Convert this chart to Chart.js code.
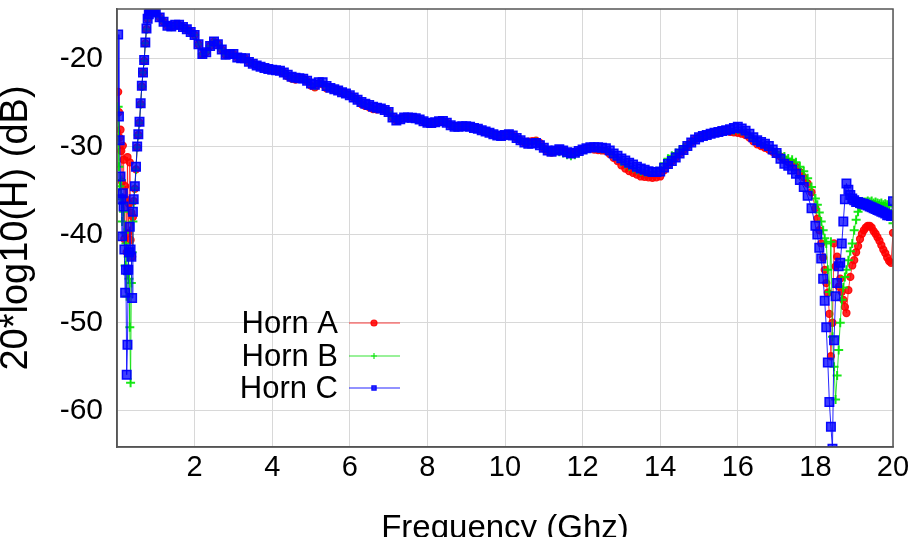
<!DOCTYPE html>
<html lang="en">
<head>
<meta charset="UTF-8">
<title>Horn response</title>
<script src="https://cdn.jsdelivr.net/npm/chart.js@4"></script>
<style>
  html, body { margin: 0; padding: 0; background: #fff; }
  canvas { display: block; }
</style>
</head>
<body>
<canvas id="hornChart" width="913" height="537"></canvas>
<script>
// frequency samples (GHz)
const freqLow = [0.03,0.05,0.07,0.09,0.11,0.13,0.15,0.17,0.19,0.21,0.23,0.25,0.27,0.29,0.31,0.33,0.35,0.37,0.39,0.41,0.43,
  0.46,0.49,0.52,0.55,0.58,0.61,0.64,0.67,0.70,0.73,0.76,0.79,0.82,0.85,0.88,0.91,0.94,0.97];
const freqMid = [1.0,1.1,1.2,1.3,1.4,1.5,1.6,1.7,1.8,1.9, 2.0,2.1,2.2,2.3,2.4,2.5,2.6,2.7,2.8,2.9,
  3.0,3.1,3.2,3.3,3.4,3.5,3.6,3.7,3.8,3.9, 4.0,4.1,4.2,4.3,4.4,4.5,4.6,4.7,4.8,4.9,
  5.0,5.1,5.2,5.3,5.4,5.5,5.6,5.7,5.8,5.9, 6.0,6.1,6.2,6.3,6.4,6.5,6.6,6.7,6.8,6.9,
  7.0,7.1,7.2,7.3,7.4,7.5,7.6,7.7,7.8,7.9, 8.0,8.1,8.2,8.3,8.4,8.5,8.6,8.7,8.8,8.9,
  9.0,9.1,9.2,9.3,9.4,9.5,9.6,9.7,9.8,9.9, 10.0,10.1,10.2,10.3,10.4,10.5,10.6,10.7,10.8,10.9,
  11.0,11.1,11.2,11.3,11.4,11.5,11.6,11.7,11.8,11.9, 12.0,12.1,12.2,12.3,12.4,12.5,12.6,12.7,12.8,12.9,
  13.0,13.1,13.2,13.3,13.4,13.5,13.6,13.7,13.8,13.9, 14.0,14.1,14.2,14.3,14.4,14.5,14.6,14.7,14.8,14.9,
  15.0,15.1,15.2,15.3,15.4,15.5,15.6,15.7,15.8,15.9, 16.0,16.1,16.2,16.3,16.4,16.5,16.6,16.7,16.8,16.9,
  17.0,17.1,17.2,17.3,17.4,17.5];
const freqTail = [17.6,17.7,17.8,17.9,18.0,18.05,18.1,18.15,18.2,
  18.24,18.28,18.32,18.36,18.4,18.44,18.48,18.52,18.56,18.6,18.64,18.68,18.72,18.76,18.8,
  18.85,18.9,18.95,19.0,19.05,19.1,19.15,19.2,19.25,19.3,19.35,19.4,19.45,19.5,19.55,19.6,
  19.65,19.7,19.75,19.8,19.85,19.9,19.95,20.0];

// Horn A (dB)
const hornALow = [-23.8,-26.1,-29.0,-28.1,-30.5,-34.0,-29.9,-31.5,-40.5,-34.5,-36.0,-42.0,-31.2,-39.8,-36.5,-31.8,-40.6,-37.5,-42.5,-38.0,-36.2,
  -34.8,-32.6,-30.1,-28.7,-27.3,-25.2,-23.2,-21.6,-20.3,-18.3,-16.7,-15.5,-15.0,-14.6,-14.45,-14.4,-14.45,-14.6];
const hornAMid = [-14.8,-15.35,-15.85,-16.3,-16.4,-16.2,-16.2,-16.45,-16.7,-17.0,
  -17.35,-18.4,-19.6,-19.3,-18.6,-18.1,-18.4,-19.0,-19.6,-19.5,
  -19.5,-19.9,-20.0,-20.0,-20.4,-20.6,-20.8,-20.95,-21.1,-21.2,
  -21.3,-21.35,-21.4,-21.6,-22.05,-22.3,-22.4,-22.25,-22.3,-22.55,
  -23.1,-23.3,-22.85,-22.95,-23.4,-23.35,-23.5,-23.65,-23.85,-24.0,
  -24.2,-24.45,-24.7,-25.2,-25.4,-25.55,-25.75,-25.8,-25.7,-25.85,
  -26.1,-26.7,-27.05,-26.9,-26.7,-26.7,-26.75,-26.8,-26.95,-27.15,
  -27.3,-27.35,-27.25,-27.15,-27.1,-27.3,-27.6,-27.75,-27.75,-27.7,
  -27.7,-27.75,-27.9,-28.0,-28.15,-28.3,-28.45,-28.6,-28.75,-28.8,
  -28.7,-28.6,-28.75,-29.05,-29.3,-29.55,-29.45,-29.4,-29.35,-29.6,
  -30.2,-30.55,-30.7,-30.45,-30.3,-30.45,-30.65,-30.8,-30.7,-30.5,
  -30.35,-30.2,-30.1,-30.35,-30.4,-30.45,-30.5,-30.85,-31.3,-31.65,
  -32.15,-32.5,-32.8,-33.0,-33.2,-33.4,-33.45,-33.5,-33.55,-33.5,
  -33.4,-32.7,-32.1,-31.65,-31.25,-30.8,-30.4,-29.95,-29.55,-29.2,
  -28.95,-28.8,-28.7,-28.55,-28.45,-28.35,-28.25,-28.15,-28.35,-28.4,
  -28.45,-28.55,-28.7,-29.0,-29.4,-29.75,-29.95,-30.15,-30.35,-30.6,
  -30.9,-31.15,-31.5,-31.75,-31.9,-32.3];
const hornATail = [-32.9,-33.5,-34.2,-35.2,-37.0,-38.2,-39.5,-41.0,-42.6,
  -44.0,-45.5,-46.6,-49.0,-53.8,-50.0,-41.0,-43.6,-42.5,-45.9,-45.0,-46.5,-47.4,-48.2,-48.9,
  -46.3,-44.8,-43.5,-42.9,-42.0,-41.3,-40.5,-39.9,-39.5,-39.2,-39.0,-39.0,-39.2,-39.6,-39.9,-40.3,
  -40.7,-41.2,-41.7,-42.1,-42.6,-43.0,-43.2,-39.8];

// Horn B (dB)
const hornBLow = [-25.5,-32.3,-34.5,-36.0,-33.8,-38.5,-36.5,-37.4,-39.8,-43.5,-41.0,-47.0,-44.5,-42.5,-45.0,-50.5,-56.8,-45.5,-42.0,-38.5,-36.4,
  -34.7,-32.6,-30.1,-28.7,-27.3,-25.2,-23.2,-21.6,-20.3,-18.3,-16.7,-15.5,-15.0,-14.6,-14.45,-14.4,-14.45,-14.6];
const hornBMid = [-14.8,-15.35,-15.85,-16.3,-16.4,-16.2,-16.2,-16.45,-16.7,-17.0,
  -17.35,-18.4,-19.5,-19.3,-18.6,-18.1,-18.4,-19.0,-19.6,-19.5,
  -19.5,-19.9,-20.0,-20.0,-20.4,-20.6,-20.8,-20.95,-21.1,-21.2,
  -21.3,-21.35,-21.4,-21.6,-21.95,-22.2,-22.3,-22.25,-22.3,-22.55,
  -22.95,-23.1,-22.75,-22.8,-23.25,-23.35,-23.5,-23.65,-23.85,-24.0,
  -24.2,-24.45,-24.7,-25.05,-25.25,-25.4,-25.6,-25.65,-25.7,-25.85,
  -26.1,-26.7,-27.05,-26.9,-26.7,-26.7,-26.75,-26.8,-26.95,-27.15,
  -27.3,-27.35,-27.25,-27.15,-27.1,-27.3,-27.6,-27.75,-27.75,-27.7,
  -27.7,-27.75,-27.9,-28.0,-28.15,-28.3,-28.45,-28.6,-28.75,-28.8,
  -28.7,-28.6,-28.75,-29.05,-29.3,-29.55,-29.6,-29.55,-29.5,-29.75,
  -30.15,-30.45,-30.6,-30.5,-30.6,-30.75,-30.95,-31.05,-30.95,-30.7,
  -30.4,-30.25,-30.15,-30.15,-30.2,-30.25,-30.3,-30.6,-31.0,-31.3,
  -31.7,-32.0,-32.25,-32.45,-32.65,-32.8,-32.9,-32.95,-32.95,-32.8,
  -32.45,-31.9,-31.4,-31.05,-30.75,-30.45,-30.15,-29.85,-29.5,-29.2,
  -28.95,-28.8,-28.7,-28.55,-28.45,-28.35,-28.25,-28.15,-28.1,-28.15,
  -28.1,-28.25,-28.45,-28.75,-29.1,-29.45,-29.65,-29.85,-30.1,-30.4,
  -30.65,-30.95,-31.15,-31.35,-31.5,-31.8];
const hornBTail = [-32.3,-32.8,-33.6,-34.6,-35.9,-36.6,-37.5,-38.5,-39.5,
  -40.4,-41.0,-44.0,-46.5,-40.8,-51.6,-55.0,-58.7,-56.0,-53.1,-50.0,-47.4,-46.0,-44.8,-44.0,
  -42.9,-41.9,-41.0,-39.5,-38.3,-37.4,-36.9,-36.5,-36.3,-36.3,-36.2,-36.3,-36.2,-36.4,-36.3,-36.4,
  -36.5,-36.4,-36.6,-36.5,-36.6,-36.8,-37.6,-38.7];

// Horn C (dB)
const hornCLow = [-17.3,-26.6,-29.3,-33.4,-36.0,-40.2,-35.3,-36.8,-41.7,-46.6,-44.0,-55.9,-52.5,-44.0,-42.0,-39.1,-41.7,-42.5,-47.2,-37.4,-36.0,
  -34.5,-32.3,-30.0,-28.6,-27.2,-25.1,-23.1,-21.6,-20.2,-18.2,-16.6,-15.5,-15.0,-14.6,-14.45,-14.4,-14.45,-14.6];
const hornCMid = [-14.8,-15.35,-15.85,-16.3,-16.4,-16.2,-16.2,-16.45,-16.7,-17.0,
  -17.35,-18.4,-19.5,-19.3,-18.6,-18.1,-18.4,-19.0,-19.6,-19.5,
  -19.5,-19.9,-20.0,-20.0,-20.4,-20.6,-20.8,-20.95,-21.1,-21.2,
  -21.3,-21.35,-21.4,-21.6,-21.85,-22.1,-22.2,-22.25,-22.3,-22.55,
  -22.85,-23.0,-22.7,-22.7,-23.15,-23.35,-23.5,-23.65,-23.85,-24.0,
  -24.2,-24.45,-24.7,-24.95,-25.15,-25.3,-25.5,-25.6,-25.7,-25.85,
  -26.1,-26.7,-27.05,-26.9,-26.7,-26.7,-26.75,-26.8,-26.95,-27.15,
  -27.3,-27.35,-27.25,-27.15,-27.1,-27.3,-27.6,-27.75,-27.75,-27.7,
  -27.7,-27.75,-27.9,-28.0,-28.15,-28.3,-28.45,-28.6,-28.75,-28.8,
  -28.7,-28.6,-28.75,-29.05,-29.3,-29.55,-29.7,-29.65,-29.6,-29.85,
  -30.15,-30.45,-30.6,-30.45,-30.3,-30.45,-30.65,-30.8,-30.7,-30.5,
  -30.35,-30.2,-30.1,-30.1,-30.1,-30.15,-30.2,-30.45,-30.8,-31.05,
  -31.35,-31.6,-31.85,-32.05,-32.3,-32.5,-32.65,-32.8,-32.9,-32.9,
  -32.85,-32.4,-32.0,-31.65,-31.25,-30.8,-30.4,-29.95,-29.55,-29.2,
  -28.95,-28.8,-28.7,-28.55,-28.45,-28.35,-28.25,-28.15,-28.05,-27.9,
  -27.75,-27.95,-28.2,-28.55,-28.95,-29.3,-29.5,-29.7,-29.95,-30.35,
  -30.75,-31.4,-31.95,-32.2,-32.6,-33.1];
const hornCTail = [-33.8,-34.6,-35.6,-37.0,-39.0,-40.0,-41.5,-42.7,-45.0,
  -47.5,-50.5,-54.5,-59.0,-61.8,-64.3,-52.0,-47.0,-45.5,-43.6,-43.2,-41.0,-38.5,-36.0,-34.2,
  -34.9,-35.5,-35.9,-36.1,-36.3,-36.3,-36.4,-36.5,-36.5,-36.6,-36.7,-36.8,-36.9,-37.0,-37.1,-37.2,
  -37.3,-37.4,-37.5,-37.6,-37.8,-37.8,-37.9,-36.2];

const seriesLabels = ['Horn A', 'Horn B', 'Horn C'];
const xTicks = [2, 4, 6, 8, 10, 12, 14, 16, 18, 20];
const yTicks = [-60, -50, -40, -30, -20];

const freqs = freqLow.concat(freqMid, freqTail);
const hornA = hornALow.concat(hornAMid, hornATail);
const hornB = hornBLow.concat(hornBMid, hornBTail);
const hornC = hornCLow.concat(hornCMid, hornCTail);
const toPoints = vals => freqs.map((f, i) => ({ x: f, y: vals[i] }));

const FONT = "'Liberation Sans', Arial, sans-serif";

// legend drawn inside the plot, text left of the sample line (gnuplot style)
const insideLegend = {
  id: 'insideLegend',
  afterDatasetsDraw(chart) {
    const ctx = chart.ctx;
    const rows = [323, 356, 388];
    ctx.save();
    ctx.font = '31px ' + FONT;
    ctx.textAlign = 'right';
    ctx.textBaseline = 'middle';
    chart.data.datasets.forEach((ds, i) => {
      const y = rows[i];
      ctx.fillStyle = '#000';
      ctx.fillText(ds.label, 338, y + 1);
      ctx.strokeStyle = ds.borderColor;
      ctx.lineWidth = 1.2;
      ctx.beginPath();
      ctx.moveTo(349, y);
      ctx.lineTo(400, y);
      ctx.stroke();
      ctx.fillStyle = ds.pointBackgroundColor;
      ctx.strokeStyle = ds.pointBorderColor;
      Chart.helpers.drawPoint(ctx, { pointStyle: ds.pointStyle, radius: 3, rotation: 0, borderWidth: 1.2 }, 374, y);
    });
    ctx.restore();
  }
};

// frame around the plot area
const plotFrame = {
  id: 'plotFrame',
  afterDraw(chart) {
    const { ctx, chartArea: a } = chart;
    ctx.save();
    ctx.strokeStyle = '#555';
    ctx.lineWidth = 1.5;
    ctx.strokeRect(a.left, a.top, a.right - a.left, a.bottom - a.top);
    ctx.restore();
  }
};

new Chart(document.getElementById('hornChart'), {
  type: 'line',
  data: {
    datasets: [
      {
        label: seriesLabels[0], data: toPoints(hornA), order: 3,
        borderColor: 'rgba(255,0,0,0.75)', borderWidth: 1,
        pointStyle: 'circle', pointRadius: 3.5, pointBorderWidth: 1.3,
        pointBackgroundColor: 'rgba(255,0,0,0.85)', pointBorderColor: 'rgba(255,0,0,0.9)'
      },
      {
        label: seriesLabels[1], data: toPoints(hornB), order: 2,
        borderColor: 'rgba(0,220,0,0.8)', borderWidth: 1,
        pointStyle: 'cross', pointRadius: 4.5, pointBorderWidth: 2,
        pointBackgroundColor: 'rgba(0,230,0,0.9)', pointBorderColor: 'rgba(0,230,0,0.9)'
      },
      {
        label: seriesLabels[2], data: toPoints(hornC), order: 1,
        borderColor: 'rgba(0,0,255,0.85)', borderWidth: 1,
        pointStyle: 'rect', pointRadius: 6, pointBorderWidth: 1.5,
        pointBackgroundColor: 'rgba(0,0,255,0.75)', pointBorderColor: 'rgba(0,0,255,0.95)'
      }
    ]
  },
  options: {
    responsive: false,
    animation: false,
    events: [],
    layout: { padding: { top: 9, right: 20, left: 0, bottom: 0 } },
    plugins: { legend: { display: false }, tooltip: { enabled: false } },
    elements: { line: { tension: 0 } },
    scales: {
      x: {
        type: 'linear', min: 0, max: 20,
        afterBuildTicks: s => { s.ticks = [{ value: 0 }].concat(xTicks.map(v => ({ value: v }))); },
        afterFit: s => { s.height = 90; s.paddingLeft = 0; s.paddingRight = 0; },
        grid: { color: '#d8d8d8', lineWidth: 1, drawTicks: false },
        border: { color: '#555', width: 1.5 },
        ticks: {
          padding: 4, color: '#000', maxRotation: 0, autoSkip: false,
          font: { family: FONT, size: 29 },
          callback: v => (v === 0 ? '' : v)
        },
        title: {
          display: true, text: 'Frequency (Ghz)', color: '#000',
          font: { family: FONT, size: 33, lineHeight: 1 },
          padding: { top: 0, bottom: -8 }
        }
      },
      y: {
        type: 'linear', min: -64.1, max: -14.4,
        afterBuildTicks: s => { s.ticks = yTicks.map(v => ({ value: v })); },
        afterFit: s => { s.width = 117; s.paddingTop = 0; s.paddingBottom = 0; },
        grid: { color: '#d8d8d8', lineWidth: 1, drawTicks: false },
        border: { color: '#555', width: 1.5 },
        ticks: {
          padding: 14, color: '#000',
          font: { family: FONT, size: 30 }
        },
        title: {
          display: true, text: '20*log10(H) (dB)', color: '#000',
          font: { family: FONT, size: 38, lineHeight: 1 },
          padding: { top: -2, bottom: 0 }
        }
      }
    }
  },
  plugins: [insideLegend, plotFrame]
});
</script>
</body>
</html>
